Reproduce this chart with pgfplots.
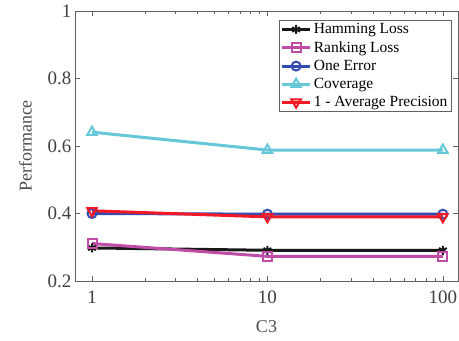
\documentclass[border=0pt]{standalone}
\usepackage{fontspec}
\setmainfont{Liberation Serif}
\usepackage{pgfplots}
\pgfplotsset{compat=1.18}
\definecolor{cHam}{rgb}{0.1,0.1,0.1}
\definecolor{cRank}{rgb}{0.75,0.3,0.65}
\definecolor{cOne}{rgb}{0.2,0.3,0.7}
\definecolor{cCov}{rgb}{0.4,0.78,0.85}
\definecolor{cAP}{rgb}{0.95,0.1,0.15}
\definecolor{axgray}{rgb}{0.38,0.38,0.38}
\begin{document}
\begin{tikzpicture}
\begin{axis}[
  scale only axis,
  width=383pt, height=270pt,
  xmode=log,
  xmin=0.8, xmax=122,
  ymin=0.2, ymax=1,
  xtick={1,10,100},
  xticklabels={1,10,100},
  ytick={0.2,0.4,0.6,0.8,1},
  yticklabels={0.2,0.4,0.6,0.8,1},
  minor xtick={},
  minor tick num=0,
  tick align=inside,
  axis line style={axgray},
  tick style={axgray, line width=0.6pt},
  major tick length=5pt,
  every tick label/.append style={font=\fontsize{19}{21}\selectfont, text=black!75},
  xticklabel style={yshift=-6pt},
  xlabel={C3}, ylabel={Performance},
  label style={font=\fontsize{18}{20}\selectfont, text=black!70},
  xlabel style={yshift=-10pt},
  ylabel style={yshift=9pt},
  legend style={at={(0.982,0.967)}, anchor=north east, font=\fontsize{15.5}{17}\selectfont,
    draw=axgray, inner sep=1.5pt, row sep=2.3pt},
  legend image code/.code={\draw[mark repeat=2,mark phase=2] plot coordinates {(0cm,0cm) (0.5cm,0cm) (1.0cm,0cm)};},
  legend cell align=left,
]
\addplot[cHam, line width=3pt, mark=asterisk, mark size=4.5pt, mark options={solid, line width=2pt}] coordinates {(1,0.298) (10,0.291) (100,0.291)};
\addlegendentry{Hamming Loss}
\addplot[cRank, line width=3pt, mark=square, mark size=4.5pt, mark options={solid, line width=2pt}] coordinates {(1,0.311) (10,0.273) (100,0.273)};
\addlegendentry{Ranking Loss}
\addplot[cOne, line width=3pt, mark=o, mark size=4.5pt, mark options={solid, line width=2pt}] coordinates {(1,0.400) (10,0.398) (100,0.398)};
\addlegendentry{One Error}
\addplot[cCov, line width=3pt, mark=triangle, mark size=5.5pt, mark options={solid, line width=2pt}] coordinates {(1,0.641) (10,0.588) (100,0.588)};
\addlegendentry{Coverage}
\addplot[cAP, line width=3pt, mark=triangle, mark size=5.5pt, mark options={solid, rotate=180, line width=2pt}] coordinates {(1,0.408) (10,0.390) (100,0.390)};
\addlegendentry{1 - Average Precision}
\end{axis}
\pgfresetboundingbox
\path (current axis.south west) ++(-75pt,-60pt) coordinate (bbA);
\path (current axis.north east) ++(1pt,11pt) coordinate (bbB);
\useasboundingbox (bbA) rectangle (bbB);
\end{tikzpicture}
\end{document}
